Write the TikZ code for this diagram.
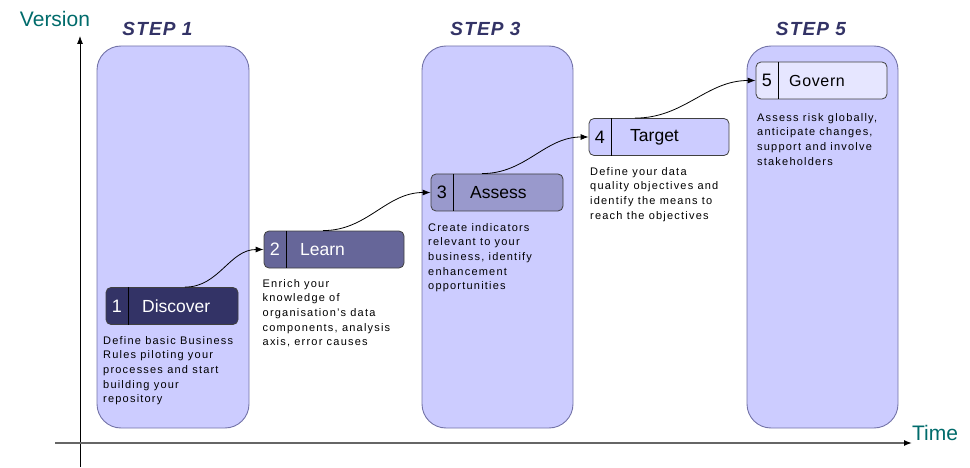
\documentclass[tikz,border=0pt]{standalone}
\usepackage{fontspec}
\setmainfont{Liberation Sans}
\usetikzlibrary{arrows.meta}
\definecolor{colfill}{HTML}{CCCCFF}
\definecolor{colline}{HTML}{7373A8}
\definecolor{navy}{HTML}{333366}
\definecolor{midnavy}{HTML}{666699}
\definecolor{lightnavy}{HTML}{9999CC}
\definecolor{palefill}{HTML}{E6E6FF}
\definecolor{axisteal}{HTML}{006B6B}
\tikzset{
  column/.style={draw=colline, fill=colfill, line width=0.9pt, rounded corners=24pt,
    minimum width=152pt, minimum height=382pt, inner sep=0pt},
  stepbox/.style={draw=black!75, line width=0.8pt, rounded corners=5pt,
    minimum height=37pt, inner sep=0pt},
  numcell/.style={anchor=west, minimum width=22pt, minimum height=37pt, inner sep=0pt,
    font=\fontsize{18}{18}\selectfont},
  steplabel/.style={anchor=west, inner sep=0pt, font=\fontsize{17.5}{18}\selectfont},
  desc/.style={anchor=north west, align=left, inner sep=0pt,
    font=\fontsize{11}{14.7}\selectfont\addfontfeature{LetterSpace=11}},
  steptitle/.style={text=navy, inner sep=0pt,
    font=\fontsize{19}{19}\selectfont\bfseries\itshape\addfontfeature{LetterSpace=6}},
  axislabel/.style={text=axisteal, inner sep=0pt, font=\fontsize{21}{21}\selectfont},
  flow/.style={-{Latex[length=8pt,width=6pt]}, line width=0.8pt}
}
\begin{document}
\begin{tikzpicture}[x=1pt,y=-1pt]
    \useasboundingbox (0,0) rectangle (970,468);

    \node[column] (col1) at (173,237) {};
    \node[column, minimum width=151pt] (col3) at (497.5,237) {};
    \node[column, minimum width=151pt] (col5) at (822.5,237) {};

    \node[steptitle] (title1) at (157.5,29) {STEP 1};
    \node[steptitle] (title3) at (485.5,29) {STEP 3};
    \node[steptitle] (title5) at (811,29) {STEP 5};

    \coordinate (vbot) at (80,467);
    \coordinate (vtop) at (80,36);
    \coordinate (hleft) at (55,443);
    \coordinate (hright) at (912,443);
    \draw[-{Latex[length=8pt,width=6pt]}, line width=0.8pt] (vbot) -- (vtop);
    \draw[-{Latex[length=8pt,width=6pt,color=black]}, draw=black!60, line width=1.4pt] (hleft) -- (hright);
    \node[axislabel] (version) at (55,18.5) {Version};
    \node[axislabel] (time) at (935,433) {Time};

    \node[stepbox, fill=navy, minimum width=132pt] (discover) at (172,306) {};
    \node[numcell, text=white] (discovernum) at (discover.west) {1};
    \draw (discovernum.north east) -- (discovernum.south east);
    \node[steplabel, text=white] (discoverlbl) at ([xshift=14pt]discovernum.east) {Discover};

    \node[stepbox, fill=midnavy, minimum width=140pt] (learn) at (334,249.5) {};
    \node[numcell, text=white] (learnnum) at (learn.west) {2};
    \draw (learnnum.north east) -- (learnnum.south east);
    \node[steplabel, text=white] (learnlbl) at ([xshift=14pt]learnnum.east) {Learn};

    \node[stepbox, fill=lightnavy, minimum width=132pt] (assess) at (497,192.5) {};
    \node[numcell] (assessnum) at (assess.west) {3};
    \draw (assessnum.north east) -- (assessnum.south east);
    \node[steplabel] (assesslbl) at ([xshift=17pt]assessnum.east) {Assess};

    \node[stepbox, fill=colfill, minimum width=140pt] (target) at (659,137) {};
    \node[numcell] (targetnum) at (target.west) {4};
    \draw (targetnum.north east) -- (targetnum.south east);
    \node[steplabel] (targetlbl) at ([xshift=19pt]targetnum.east) {Target};

    \node[stepbox, fill=palefill, minimum width=131pt] (govern) at (821.5,80.5) {};
    \node[numcell] (governnum) at (govern.west) {5};
    \draw (governnum.north east) -- (governnum.south east);
    \node[steplabel, font=\fontsize{16}{16}\selectfont\addfontfeature{LetterSpace=4}] (governlbl) at ([xshift=11pt]governnum.east) {Govern};

    \draw[flow] ([xshift=13pt]discover.north) to[out=0,in=180] (learn.west);
    \draw[flow] ([xshift=-11pt]learn.north) to[out=0,in=180] (assess.west);
    \draw[flow] ([xshift=-15pt]assess.north) to[out=0,in=180] (target.west);
    \draw[flow] ([xshift=-24pt]target.north) to[out=0,in=180] (govern.west);

    \node[desc] (discoverdesc) at (103,336) {Define basic Business\\Rules piloting your\\processes and start\\building your\\repository};
    \node[desc] (learndesc) at (262.5,279) {Enrich your\\knowledge of\\organisation's data\\components, analysis\\axis, error causes};
    \node[desc] (assessdesc) at (428,223) {Create indicators\\relevant to your\\business, identify\\enhancement\\opportunities};
    \node[desc] (targetdesc) at (590,167) {Define your data\\quality objectives and\\identify the means to\\reach the objectives};
    \node[desc] (governdesc) at (757,113) {Assess risk globally,\\anticipate changes,\\support and involve\\stakeholders};
\end{tikzpicture}
\end{document}
